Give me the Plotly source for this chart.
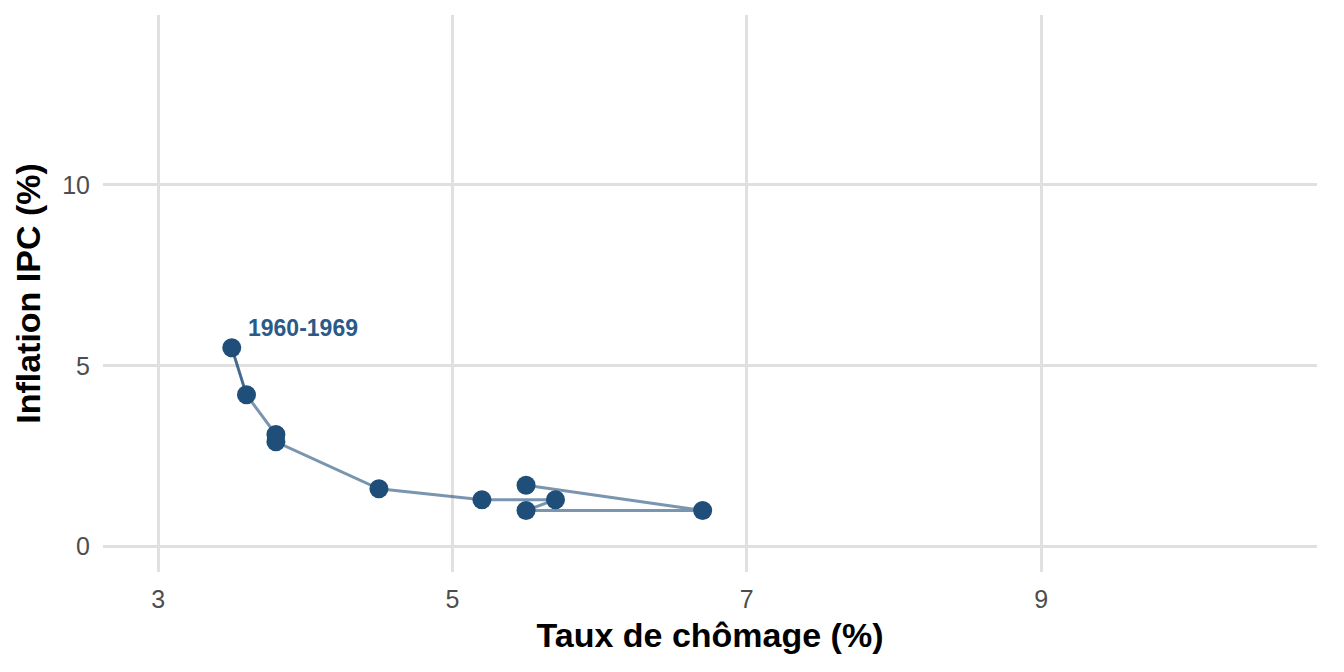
import plotly.graph_objects as go

# courbe de Phillips, 1960-1969
annees = [1960, 1961, 1962, 1963, 1964, 1965, 1966, 1967, 1968, 1969]
chomage = [5.5, 6.7, 5.5, 5.7, 5.2, 4.5, 3.8, 3.8, 3.6, 3.5]
inflation = [1.7, 1.0, 1.0, 1.3, 1.3, 1.6, 2.9, 3.1, 4.2, 5.5]
label_periode = "1960-1969"

x_ticks = [3, 5, 7, 9]
y_ticks = [0, 5, 10]

fig = go.Figure()

fig.add_trace(go.Scatter(
    x=chomage, y=inflation,
    mode='lines',
    line=dict(color='rgba(31,78,121,0.6)', width=3),
    hoverinfo='skip', showlegend=False
))
# petite fleche vers la derniere annee
fig.add_annotation(
    x=chomage[-1], y=inflation[-1], ax=chomage[-2], ay=inflation[-2],
    xref='x', yref='y', axref='x', ayref='y',
    text='', showarrow=True, arrowhead=2, arrowsize=0.7, arrowwidth=2.5,
    arrowcolor='rgba(31,78,121,0.6)'
)
fig.add_trace(go.Scatter(
    x=chomage, y=inflation,
    mode='markers',
    marker=dict(color='#1f4e79', size=19),
    text=annees, showlegend=False
))
fig.add_annotation(
    x=chomage[-1] + 0.1, y=inflation[-1] + 0.55,
    text='<b>' + label_periode + '</b>',
    showarrow=False, xanchor='left', yanchor='middle',
    font=dict(family='Liberation Sans, Arial', size=23, color='#2a5a87')
)

fig.update_layout(
    width=1344, height=672,
    plot_bgcolor='white', paper_bgcolor='white',
    margin=dict(l=95, r=35, t=7, b=108),
    font=dict(family='Liberation Sans, Arial', color='#4d4d4d'),
    xaxis=dict(
        range=[2.625, 10.875], tickvals=x_ticks, showgrid=True,
        gridcolor='#e0e0e0', gridwidth=2.5, zeroline=False,
        ticks='', ticklabelstandoff=10, tickfont=dict(size=25, color='#4d4d4d'),
        title=dict(text='<b>Taux de chômage (%)</b>',
                   font=dict(size=34, color='black'), standoff=11)
    ),
    yaxis=dict(
        range=[-0.7, 14.7], tickvals=y_ticks, showgrid=True,
        gridcolor='#e0e0e0', gridwidth=2.5, zeroline=False,
        ticks='', ticklabelstandoff=12, tickfont=dict(size=25, color='#4d4d4d'),
        title=dict(text='<b>Inflation IPC (%)</b>',
                   font=dict(size=34, color='black'), standoff=11)
    ),
)

fig.write_html("out.html")
